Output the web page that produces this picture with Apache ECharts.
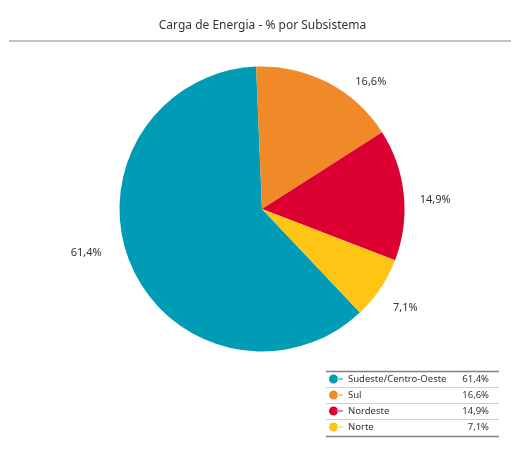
<!DOCTYPE html>
<html>
<head>
<meta charset="utf-8">
<script src="https://cdn.jsdelivr.net/npm/echarts@6/dist/echarts.min.js"></script>
<style>
  html, body { margin: 0; padding: 0; background: #fff; }
  #chart { width: 525px; height: 472px; }
</style>
</head>
<body>
<div id="chart"></div>
<script>
// dados do gráfico
var subsistemas = ['Sudeste/Centro-Oeste', 'Sul', 'Nordeste', 'Norte'];
var carga = [61.4, 16.6, 14.9, 7.1];
var cores = ['#009bb4', '#f08a28', '#dc0032', '#ffc515'];

// afastamento dos rótulos (só layout)
var linhaRotulo = [[0, 24], [1, 22], [0, 11], [20, 0]];
var ajusteRotulo = [[0, -12], [0, 0], [0, 5], [-9, 8]];

var fonte = '"Noto Sans", "DejaVu Sans", sans-serif';

function pct(v) {
  return v.toFixed(1).replace('.', ',') + '%';
}

var dados = subsistemas.map(function (nome, i) {
  return {
    name: nome,
    value: carga[i],
    itemStyle: { color: cores[i] },
    labelLine: { show: false, length: linhaRotulo[i][0], length2: linhaRotulo[i][1] }
  };
});

var chart = echarts.init(document.getElementById('chart'));

var option = {
  animation: false,
  backgroundColor: '#fff',
  title: {
    text: 'Carga de Energia - % por Subsistema',
    left: 'center',
    top: 15,
    textStyle: { fontFamily: fonte, fontSize: 12, fontWeight: 'normal', color: '#333' }
  },
  legend: {
    orient: 'vertical',
    left: 329,
    top: 371,
    padding: 0,
    itemGap: 0,
    itemWidth: 14,
    itemHeight: 9,
    selectedMode: false,
    icon: 'path://M0,4.5a4.5,4.5 0 1,0 9,0a4.5,4.5 0 1,0 -9,0zM8,4h6v1h-6z',
    data: subsistemas,
    formatter: function (nome) {
      var i = subsistemas.indexOf(nome);
      return '{n|' + nome + '}{v|' + pct(carga[i]) + '}';
    },
    textStyle: {
      fontFamily: fonte,
      fontSize: 9.5,
      color: '#333',
      lineHeight: 16,
      rich: {
        n: { width: 100, fontFamily: fonte, fontSize: 9.5, color: '#333', lineHeight: 16 },
        v: { width: 41, align: 'right', fontFamily: fonte, fontSize: 9.5, color: '#333', lineHeight: 16 }
      }
    }
  },
  graphic: [
    { type: 'line', shape: { x1: 9, y1: 41, x2: 511, y2: 41 }, style: { stroke: '#888', lineWidth: 1 } },
    { type: 'line', shape: { x1: 326, y1: 371.5, x2: 499, y2: 371.5 }, style: { stroke: '#808080', lineWidth: 1.5 } },
    { type: 'line', shape: { x1: 326, y1: 387.5, x2: 499, y2: 387.5 }, style: { stroke: '#cfcfcf', lineWidth: 1 } },
    { type: 'line', shape: { x1: 326, y1: 403.5, x2: 499, y2: 403.5 }, style: { stroke: '#cfcfcf', lineWidth: 1 } },
    { type: 'line', shape: { x1: 326, y1: 419.5, x2: 499, y2: 419.5 }, style: { stroke: '#cfcfcf', lineWidth: 1 } },
    { type: 'line', shape: { x1: 326, y1: 436.5, x2: 499, y2: 436.5 }, style: { stroke: '#808080', lineWidth: 1.5 } }
  ],
  series: [{
    type: 'pie',
    center: [262, 209],
    radius: 142.5,
    startAngle: 313.4,
    clockwise: true,
    avoidLabelOverlap: false,
    emphasis: { disabled: true },
    label: {
      show: true,
      position: 'outside',
      fontFamily: fonte,
      fontSize: 11,
      color: '#333',
      formatter: function (p) { return pct(p.value); }
    },
    labelLayout: function (p) {
      return { dx: ajusteRotulo[p.dataIndex][0], dy: ajusteRotulo[p.dataIndex][1] };
    },
    data: dados
  }]
};

chart.setOption(option);
</script>
</body>
</html>
